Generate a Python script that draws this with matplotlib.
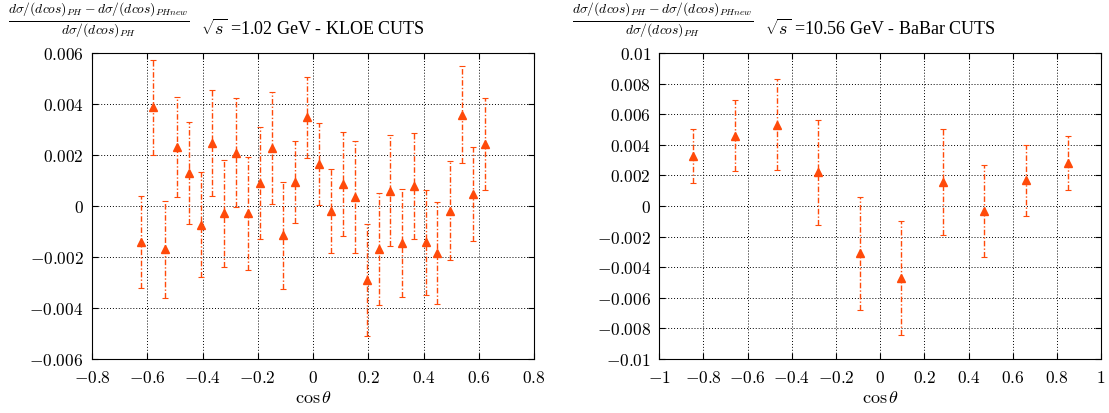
import matplotlib
matplotlib.use("Agg")
import matplotlib.pyplot as plt
from matplotlib.ticker import FuncFormatter, MultipleLocator

plt.rcParams['mathtext.fontset'] = 'cm'
plt.rcParams['font.family'] = ['Liberation Serif', 'DejaVu Serif']

# KLOE cuts, sqrt(s) = 1.02 GeV
kloe_cos = [-0.623, -0.581, -0.535, -0.493, -0.450, -0.407, -0.365, -0.321, -0.279, -0.236,
            -0.192, -0.150, -0.108, -0.064, -0.023, 0.022, 0.065, 0.108, 0.150, 0.195,
            0.237, 0.279, 0.321, 0.366, 0.409, 0.450, 0.494, 0.539, 0.579, 0.623]
kloe_val = [-0.00142, 0.00387, -0.00169, 0.00230, 0.00128, -0.00073, 0.00247, -0.00029, 0.00210, -0.00029,
            0.00090, 0.00227, -0.00114, 0.00095, 0.00348, 0.00165, -0.00018, 0.00086, 0.00034, -0.00290,
            -0.00169, 0.00060, -0.00145, 0.00077, -0.00142, -0.00186, -0.00018, 0.00358, 0.00047, 0.00243]
kloe_err = [0.00180, 0.00185, 0.00190, 0.00196, 0.00200, 0.00205, 0.00208, 0.00210, 0.00214, 0.00220,
            0.00220, 0.00220, 0.00210, 0.00162, 0.00160, 0.00160, 0.00165, 0.00205, 0.00220, 0.00220,
            0.00220, 0.00218, 0.00212, 0.00208, 0.00206, 0.00200, 0.00195, 0.00190, 0.00184, 0.00180]

# BaBar cuts, sqrt(s) = 10.56 GeV
babar_cos = [-0.846, -0.656, -0.469, -0.280, -0.092, 0.096, 0.284, 0.472, 0.660, 0.849]
babar_val = [0.00327, 0.00461, 0.00533, 0.00222, -0.00308, -0.00472, 0.00156, -0.00031, 0.00167, 0.00283]
babar_err = [0.00177, 0.00232, 0.00295, 0.00343, 0.00370, 0.00373, 0.00346, 0.00300, 0.00233, 0.00178]

color = '#ff4a0a'
frac = r'$\frac{d\sigma/(dcos)_{PH}-d\sigma/(dcos)_{PHnew}}{d\sigma/(dcos)_{PH}}$'


def fmt(v, pos):
    s = '%g' % round(v, 6)
    return '$' + s + '$'


fig = plt.figure(figsize=(11.09, 4.14), dpi=100)
ax1 = fig.add_axes([0.083, 0.1304, 0.3986, 0.739])
ax2 = fig.add_axes([0.5945, 0.1304, 0.3983, 0.739])


def draw(ax, x, y, e):
    eb = ax.errorbar(x, y, yerr=e, fmt='^', color=color, ms=6, capsize=2.5,
                     elinewidth=1.0, capthick=0.8, zorder=3)
    eb[2][0].set_linestyle((0, (4, 1.5, 1, 1.5)))
    ax.grid(True, color='black', linestyle=(0, (1, 2)), linewidth=0.7)
    ax.xaxis.set_major_formatter(FuncFormatter(fmt))
    ax.yaxis.set_major_formatter(FuncFormatter(fmt))
    ax.tick_params(direction='in', labelsize=12.5, top=True, right=True, length=4)
    ax.tick_params(axis='x', pad=8)
    ax.tick_params(axis='y', pad=6)
    ax.set_xlabel(r'$\cos\theta$', fontsize=13, labelpad=2)


draw(ax1, kloe_cos, kloe_val, kloe_err)
ax1.set_xlim(-0.8, 0.8)
ax1.set_ylim(-0.006, 0.006)
ax1.xaxis.set_major_locator(MultipleLocator(0.2))
ax1.yaxis.set_major_locator(MultipleLocator(0.002))
ax1.set_title(r'$\sqrt{s}$ =1.02 GeV - KLOE CUTS', fontsize=13, pad=14)
fig.text(0.007, 0.998, frac, fontsize=14, va='top', ha='left')

draw(ax2, babar_cos, babar_val, babar_err)
ax2.set_xlim(-1, 1)
ax2.set_ylim(-0.01, 0.01)
ax2.xaxis.set_major_locator(MultipleLocator(0.2))
ax2.yaxis.set_major_locator(MultipleLocator(0.002))
ax2.set_title(r'$\sqrt{s}$ =10.56 GeV - BaBar CUTS', fontsize=13, pad=14)
fig.text(0.516, 0.998, frac, fontsize=14, va='top', ha='left')

fig.savefig('out.png', dpi=100)
